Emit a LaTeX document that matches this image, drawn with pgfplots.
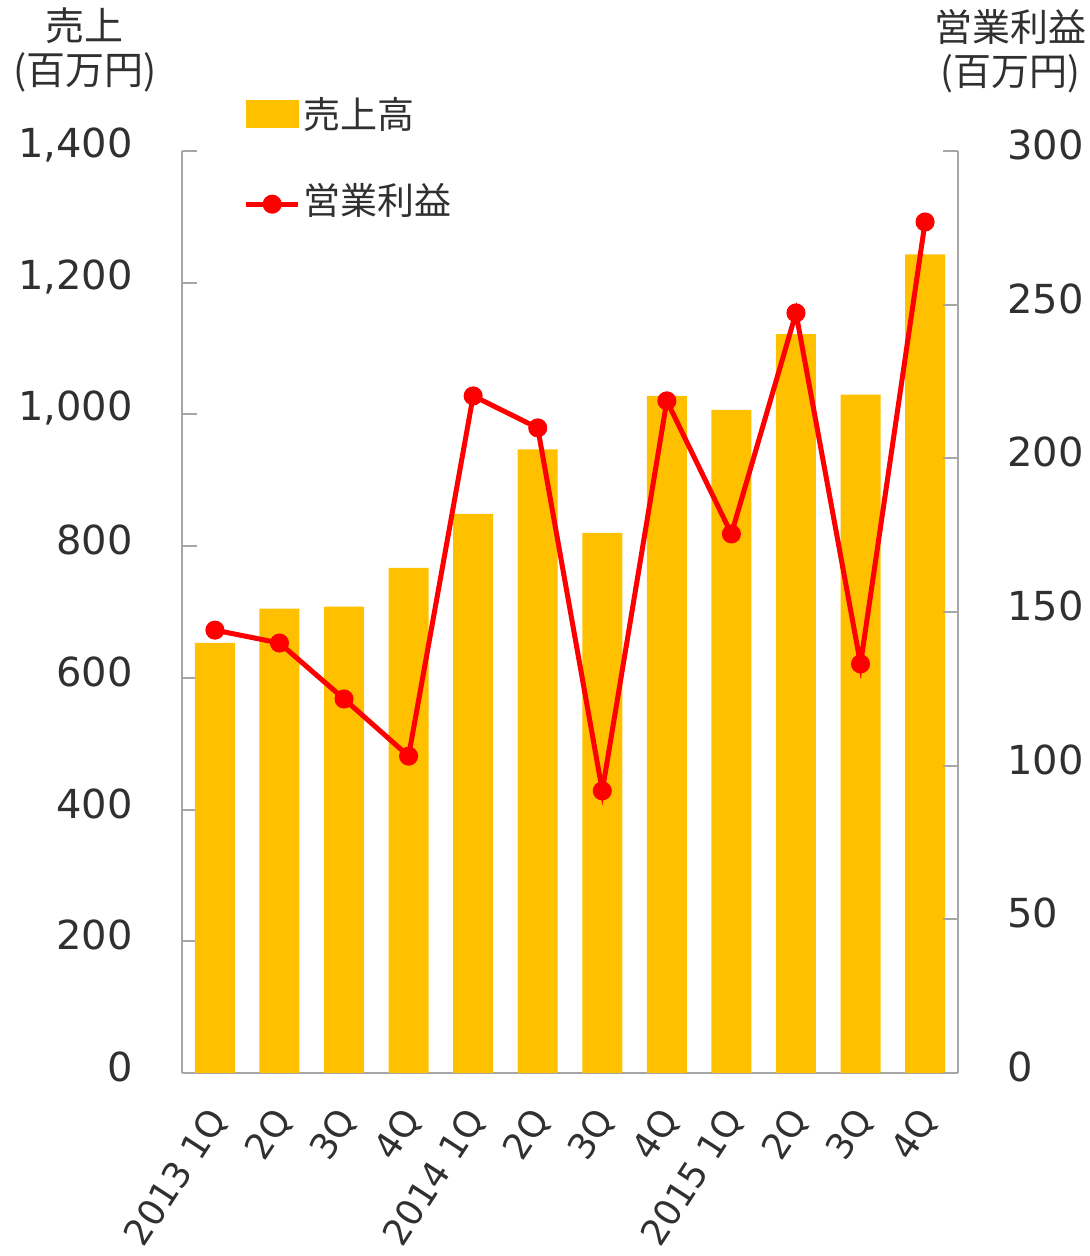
\documentclass[border=0pt]{standalone}
\usepackage{pgfplots}
\pgfplotsset{compat=1.18}
\usepackage{fontspec}
\setmainfont{DejaVu Sans}
\newfontfamily\cjk{Noto Sans CJK JP}
\definecolor{barc}{HTML}{FFC000}
\definecolor{txt}{HTML}{303030}
\definecolor{axc}{HTML}{A6A6A6}
\pgfplotsset{
  common/.style={
    scale only axis, width=388pt, height=461pt,
    xmin=-0.51, xmax=11.51, ymin=0,
    axis line style={-, draw=axc, line width=1pt},
    tick align=inside, major tick length=7.5pt,
    ytick style={draw=axc, line width=1pt},
    ticklabel style={font=\fontsize{20}{24}\selectfont, text=txt},
    /pgf/number format/assume math mode=true,
    /pgf/number format/1000 sep={,},
    clip=false,
  }
}
\begin{document}
\begin{tikzpicture}
\begin{axis}[common,
  ymax=1400,
  axis x line*=bottom, axis y line*=left,
  xtick={0,...,11},
  xticklabels={2013 1Q,2Q,3Q,4Q,2014 1Q,2Q,3Q,4Q,2015 1Q,2Q,3Q,4Q},
  xtick style={draw=none},
  ytick={0,200,...,1400},
  yticklabel style={anchor=east, inner sep=0pt, xshift=-24.5pt, yshift=3pt},
  xticklabel style={xshift=2pt, yshift=-20pt, rotate=57, anchor=east, inner sep=0pt,
    font=\fontsize{18}{22}\selectfont},
  ylabel={売上\\(百万円)},
  ylabel style={at={(rel axis cs:0,1)}, rotate=-90, anchor=south, align=center,
    inner sep=0pt, xshift=-48.5pt, yshift=29pt, font=\cjk\fontsize{19.5}{22}\selectfont, text=txt},
]
\addplot[ybar, bar width=20pt, fill=barc, draw=none, bar shift=0pt] coordinates {
(0,653) (1,705) (2,708) (3,767) (4,849) (5,947) (6,820) (7,1028) (8,1007) (9,1122) (10,1030) (11,1243)};
\coordinate (sw) at (rel axis cs:0,0);
\end{axis}
\begin{axis}[common,
  ymax=300,
  axis y line*=right, axis x line=none,
  ytick={0,50,...,300},
  yticklabel style={anchor=west, inner sep=0pt, xshift=24.5pt, yshift=3pt},
  ylabel={営業利益\\(百万円)},
  ylabel style={at={(rel axis cs:1,1)}, rotate=-90, anchor=south, align=center,
    inner sep=0pt, xshift=26pt, yshift=29pt, font=\cjk\fontsize{19}{22}\selectfont, text=txt},
  legend style={at={(rel axis cs:0.079,1.059)}, anchor=north west, draw=none, fill=none,
    font=\cjk\fontsize{18.5}{22}\selectfont, text=txt, row sep=26pt, inner sep=0pt,
    nodes={inner xsep=1.5pt, inner ysep=0pt}},
  legend cell align=left,
]
\addlegendimage{legend image code/.code={\fill[barc] (0pt,-6.75pt) rectangle (26pt,6.75pt);}}
\addlegendentry{売上高}
\addplot[red, line width=2.5pt, mark=*, mark size=3.5pt,
  legend image code/.code={\draw[red, line width=2.5pt, mark=*, mark size=3.5pt, mark repeat=2, mark phase=2] plot coordinates {(0pt,-2pt)(13pt,-2pt)(26pt,-2pt)};}]
 coordinates {
(0,144.1) (1,139.9) (2,121.7) (3,103.1) (4,220.3) (5,209.9) (6,91.8) (7,218.7) (8,175.4) (9,247.3) (10,133.1) (11,276.9)};
\addlegendentry{営業利益}
\end{axis}
\pgfresetboundingbox
\path[use as bounding box] ([shift={(-91pt,-91.5pt)}]sw) rectangle ([shift={(453.5pt,536.5pt)}]sw);
\end{tikzpicture}
\end{document}
